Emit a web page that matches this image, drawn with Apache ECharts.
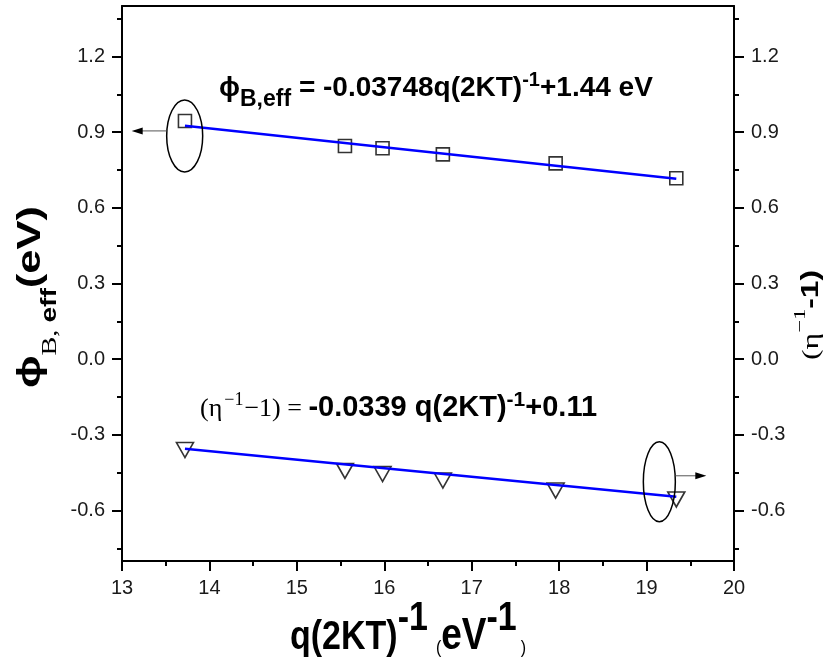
<!DOCTYPE html>
<html>
<head>
<meta charset="utf-8">
<script src="https://cdn.jsdelivr.net/npm/echarts@6/dist/echarts.min.js"></script>
<style>
  html, body { margin: 0; padding: 0; background: #fff; }
  #chart { width: 826px; height: 659px; }
</style>
</head>
<body>
<div id="chart"></div>
<script>
// q(2kT)^-1 in eV^-1 for each measurement temperature
const invTemp = [13.72, 15.55, 15.98, 16.67, 17.96, 19.34];
// effective barrier height phi_B,eff (eV), left axis
const phiEff = [0.944, 0.845, 0.836, 0.812, 0.776, 0.717];
// (eta^-1 - 1), right axis
const etaTerm = [-0.36, -0.443, -0.455, -0.481, -0.521, -0.556];
// linear fits as [slope, intercept]
const phiFit = [-0.03748, 1.44];
const etaFit = [-0.0339, 0.11];
// axis ticks
const xTicks = [13, 14, 15, 16, 17, 18, 19, 20];
const yMajor = [-0.6, -0.3, 0.0, 0.3, 0.6, 0.9, 1.2];
const yMinor = [-0.75, -0.45, -0.15, 0.15, 0.45, 0.75, 1.05, 1.35];

const SANS = "'Liberation Sans', Arial, Helvetica, sans-serif";
const SERIF = "'Liberation Serif', 'Times New Roman', serif";
const Y_MIN = -0.8, Y_MAX = 1.4;

const pts = (xs, ys) => xs.map((x, i) => [x, ys[i]]);
const fitLine = (fit) => {
  const x0 = invTemp[0], x1 = invTemp[invTemp.length - 1];
  return [[x0, fit[0] * x0 + fit[1]], [x1, fit[0] * x1 + fit[1]]];
};

const labelStyle = { color: '#1a1a1a', fontSize: 20, fontFamily: SANS };

function majorY(position) {
  return {
    type: 'value', position, min: Y_MIN, max: Y_MAX,
    axisLine: { show: true, onZero: false, lineStyle: { color: '#000', width: 2 } },
    axisTick: { show: true, inside: false, length: 10, customValues: yMajor, lineStyle: { color: '#000', width: 2 } },
    axisLabel: Object.assign({ show: true, margin: 17, customValues: yMajor, formatter: v => v.toFixed(1) }, labelStyle),
    splitLine: { show: false }
  };
}
function minorY(position) {
  return {
    type: 'value', position, min: Y_MIN, max: Y_MAX,
    axisLine: { show: false },
    axisTick: { show: true, inside: false, length: 5, customValues: yMinor, lineStyle: { color: '#000', width: 2 } },
    axisLabel: { show: false, customValues: yMinor },
    splitLine: { show: false }
  };
}

const chart = echarts.init(document.getElementById('chart'), null, { renderer: 'canvas' });

chart.setOption({
  animation: false,
  backgroundColor: '#fff',
  grid: { left: 122, top: 6, right: 92, bottom: 98, containLabel: false },
  xAxis: [
    {
      type: 'value', position: 'bottom', min: xTicks[0], max: xTicks[xTicks.length - 1], interval: 1,
      axisLine: { show: true, onZero: false, lineStyle: { color: '#000', width: 2 } },
      axisTick: { show: true, inside: false, length: 10, lineStyle: { color: '#000', width: 2 } },
      minorTick: { show: true, splitNumber: 2, length: 5, lineStyle: { color: '#000', width: 2 } },
      axisLabel: Object.assign({ margin: 17 }, labelStyle),
      splitLine: { show: false }, minorSplitLine: { show: false }
    },
    {
      type: 'value', position: 'top', min: xTicks[0], max: xTicks[xTicks.length - 1], interval: 1,
      axisLine: { show: true, onZero: false, lineStyle: { color: '#000', width: 2 } },
      axisTick: { show: false }, axisLabel: { show: false }, splitLine: { show: false }
    }
  ],
  yAxis: [majorY('left'), minorY('left'), majorY('right'), minorY('right')],
  series: [
    {
      name: 'phi', type: 'scatter', xAxisIndex: 0, yAxisIndex: 0,
      data: pts(invTemp, phiEff), symbol: 'rect', symbolSize: 13,
      itemStyle: { color: 'rgba(0,0,0,0)', borderColor: '#000', borderWidth: 1.6 }, z: 3
    },
    {
      name: 'eta', type: 'scatter', xAxisIndex: 0, yAxisIndex: 2,
      data: pts(invTemp, etaTerm), symbol: 'triangle', symbolRotate: 180, symbolSize: [17, 15],
      itemStyle: { color: 'rgba(0,0,0,0)', borderColor: '#000', borderWidth: 1.6 }, z: 3
    },
    {
      name: 'phiFit', type: 'line', xAxisIndex: 0, yAxisIndex: 0, data: fitLine(phiFit),
      showSymbol: false, symbol: 'none', lineStyle: { color: '#0000ff', width: 2.5 }, z: 4, silent: true
    },
    {
      name: 'etaFit', type: 'line', xAxisIndex: 0, yAxisIndex: 2, data: fitLine(etaFit),
      showSymbol: false, symbol: 'none', lineStyle: { color: '#0000ff', width: 2.5 }, z: 4, silent: true
    }
  ]
});

// Ellipse markers with arrows pointing at the axis each series belongs to
const callouts = [
  { at: [13.717, 0.885], rx: 18, ry: 36, dir: -1, dy: -5, len: 35 },
  { at: [19.146, -0.486], rx: 16, ry: 40, dir: 1, dy: -6, len: 31 }
];

const graphics = [];
callouts.forEach(c => {
  const p = chart.convertToPixel({ xAxisIndex: 0, yAxisIndex: 0 }, c.at);
  graphics.push({
    type: 'ellipse', shape: { cx: p[0], cy: p[1], rx: c.rx, ry: c.ry },
    style: { fill: 'none', stroke: '#000', lineWidth: 1.5 }, z: 10, silent: true
  });
  const x0 = p[0] + c.dir * c.rx, y0 = p[1] + c.dy;
  const tip = x0 + c.dir * c.len;
  graphics.push({
    type: 'line', shape: { x1: x0, y1: y0, x2: tip - c.dir * 9, y2: y0 },
    style: { stroke: '#555', lineWidth: 1 }, z: 10, silent: true
  });
  graphics.push({
    type: 'polygon', shape: { points: [[tip, y0], [tip - c.dir * 11, y0 - 3.5], [tip - c.dir * 11, y0 + 3.5]] },
    style: { fill: '#000' }, z: 10, silent: true
  });
});

// Lay out a run of text pieces (sub/superscripts) along a shared baseline at local y = 0
const measureCtx = document.createElement('canvas').getContext('2d');
function textRun(parts) {
  let x = 0;
  const children = [];
  parts.forEach(p => {
    const font = `${p.weight || 'normal'} ${p.size}px ${p.family}`;
    measureCtx.font = font;
    x += p.dx || 0;
    children.push({
      type: 'text', x, y: -(p.rise || 0) - 0.3465 * p.size, silent: true,
      style: { x: 0, y: 0, text: p.text, font, fill: '#000', align: 'left', verticalAlign: 'middle' }
    });
    x += measureCtx.measureText(p.text).width;
  });
  return { children, width: x };
}
function textGroup(parts, props, targetLength) {
  const run = textRun(parts);
  const g = Object.assign({ type: 'group', z: 20, silent: true, children: run.children }, props);
  if (targetLength) g.scaleX = targetLength / run.width;
  return g;
}

const B = 'bold';

// fit equation for phi_B,eff
graphics.push(textGroup([
  { text: 'ϕ', size: 28, weight: B, family: SANS },
  { text: 'B,eff', size: 23, weight: B, family: SANS, rise: -10 },
  { text: ' = -0.03748q(2KT)', size: 28, weight: B, family: SANS },
  { text: '-1', size: 20, weight: B, family: SANS, rise: 11 },
  { text: '+1.44 eV', size: 28, weight: B, family: SANS }
], { x: 219, y: 98 }));

// fit equation for (eta^-1 - 1)
graphics.push(textGroup([
  { text: '(η', size: 26, family: SERIF },
  { text: '−1', size: 18, family: SERIF, rise: 11, dx: 2 },
  { text: '−1) = ', size: 26, family: SERIF, dx: 1 },
  { text: '-0.0339 q(2KT)', size: 29, weight: B, family: SANS },
  { text: '-1', size: 21, weight: B, family: SANS, rise: 11 },
  { text: '+0.11', size: 29, weight: B, family: SANS }
], { x: 200, y: 418 }));

// x axis title
graphics.push(textGroup([
  { text: 'q(2KT)', size: 34, weight: B, family: SANS },
  { text: '-1', size: 34, weight: B, family: SANS, rise: 16 },
  { text: '(', size: 16, family: SANS, rise: -2, dx: 8 },
  { text: 'eV', size: 37, weight: B, family: SANS },
  { text: '-1', size: 34, weight: B, family: SANS, rise: 16 },
  { text: ')', size: 16, family: SANS, rise: -2, dx: 4 }
], { x: 290, y: 652, scaleY: 1.2 }));

// left y axis title (reads bottom to top)
graphics.push(textGroup([
  { text: 'ϕ', size: 34, weight: B, family: SANS },
  { text: 'B, ', size: 22, family: SERIF, rise: -16 },
  { text: 'eff', size: 22, weight: B, family: SANS, rise: -16 },
  { text: '(eV)', size: 34, weight: B, family: SANS }
], { x: 42, y: 388, rotation: Math.PI / 2 }, 182));

// right y axis title (reads bottom to top)
graphics.push(textGroup([
  { text: '(η', size: 24, family: SERIF },
  { text: '−1', size: 17, family: SERIF, rise: 14 },
  { text: '-1)', size: 24, weight: B, family: SANS }
], { x: 820, y: 360, rotation: Math.PI / 2 }, 90));

chart.setOption({ graphic: graphics });
</script>
</body>
</html>
